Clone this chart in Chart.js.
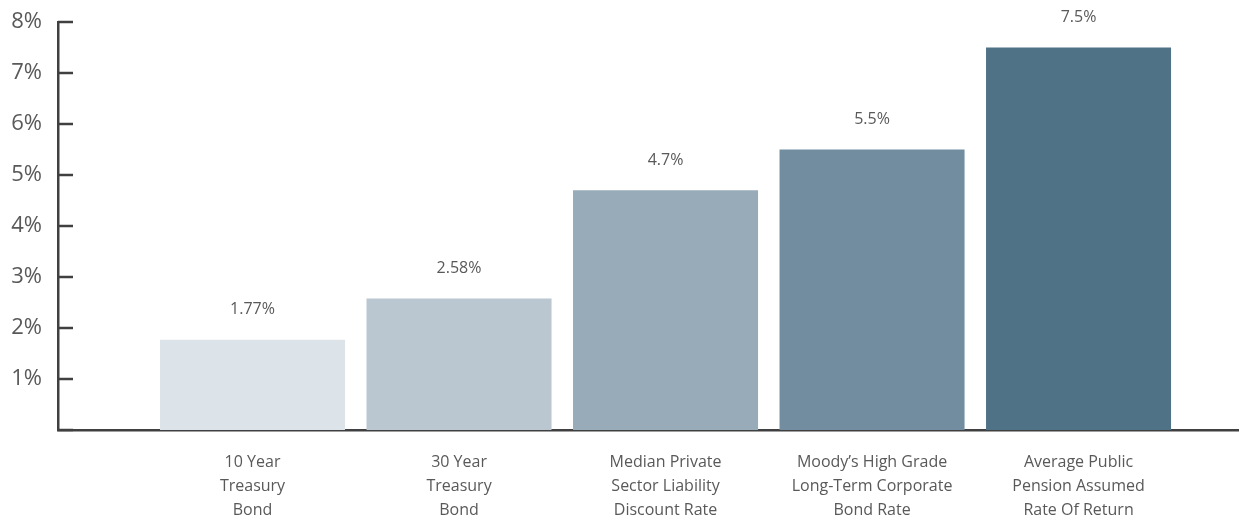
<!DOCTYPE html>
<html>
<head>
<meta charset="utf-8">
<script src="https://cdn.jsdelivr.net/npm/chart.js@4/dist/chart.umd.min.js"></script>
<style>
html,body{margin:0;padding:0;background:#fff;}
#wrap{width:1239px;height:521px;position:relative;}
</style>
</head>
<body>
<div id="wrap"><canvas id="c"></canvas></div>
<script>
const categories = [
  ['10 Year', 'Treasury', 'Bond'],
  ['30 Year', 'Treasury', 'Bond'],
  ['Median Private', 'Sector Liability', 'Discount Rate'],
  ['Moody\u2019s High Grade', 'Long-Term Corporate', 'Bond Rate'],
  ['Average Public', 'Pension Assumed', 'Rate Of Return']
];
const values = [1.77, 2.58, 4.7, 5.5, 7.5];
const barColors = ['#dce3e9', '#bac7d1', '#97abb8', '#718d9f', '#507287'];
const yTicks = [1, 2, 3, 4, 5, 6, 7, 8];

const TEXT = '#595959';
const AXIS = '#404040';
const FONT = "'Open Sans', 'Noto Sans', sans-serif";

const points = values.map((v, i) => ({x: i, y: v}));

function zeroPad(s) {
  s.paddingLeft = 0; s.paddingRight = 0; s.paddingTop = 0; s.paddingBottom = 0;
}

const decorations = {
  id: 'decorations',
  afterDatasetsDraw(chart) {
    const ctx = chart.ctx;
    const ys = chart.scales.y;
    const left = chart.chartArea.left;
    ctx.save();
    ctx.strokeStyle = AXIS;
    ctx.lineWidth = 2.5;
    [0].concat(yTicks).forEach(t => {
      const py = Math.round(ys.getPixelForValue(t));
      ctx.beginPath();
      ctx.moveTo(left, py);
      ctx.lineTo(left + 15, py);
      ctx.stroke();
    });
    const meta = chart.getDatasetMeta(0);
    ctx.fillStyle = TEXT;
    ctx.font = "16px " + FONT;
    ctx.textAlign = 'center';
    ctx.textBaseline = 'middle';
    meta.data.forEach((bar, i) => {
      ctx.fillText(values[i] + '%', bar.x, bar.y - 30);
    });
    ctx.restore();
  }
};

new Chart(document.getElementById('c'), {
  type: 'bar',
  data: {
    datasets: [{
      data: points,
      backgroundColor: barColors,
      borderWidth: 0,
      categoryPercentage: 1,
      barPercentage: 0.896
    }]
  },
  options: {
    responsive: true,
    maintainAspectRatio: false,
    animation: false,
    layout: {padding: {top: 22, right: 0, left: 0, bottom: 0}},
    plugins: {legend: {display: false}, tooltip: {enabled: false}},
    scales: {
      x: {
        type: 'linear',
        offset: false,
        min: -0.942,
        max: 4.777,
        afterFit(s) { s.height = 91; zeroPad(s); },
        grid: {display: false, drawTicks: false, offset: false},
        border: {display: true, color: AXIS, width: 2.5},
        ticks: {
          stepSize: 1,
          includeBounds: false,
          autoSkip: false,
          maxRotation: 0,
          padding: 20,
          color: TEXT,
          font: {family: FONT, size: 16, lineHeight: '24px'},
          callback(v) {
            return Number.isInteger(v) && categories[v] ? categories[v] : '';
          }
        }
      },
      y: {
        min: 0,
        max: 8,
        afterFit(s) { s.width = 58; zeroPad(s); },
        grid: {display: false, drawTicks: false},
        border: {display: true, color: AXIS, width: 2.5},
        ticks: {
          stepSize: 1,
          padding: 16,
          color: TEXT,
          font: {family: FONT, size: 22},
          callback(v) { return yTicks.includes(v) ? v + '%' : ''; }
        }
      }
    }
  },
  plugins: [decorations]
});
</script>
</body>
</html>
